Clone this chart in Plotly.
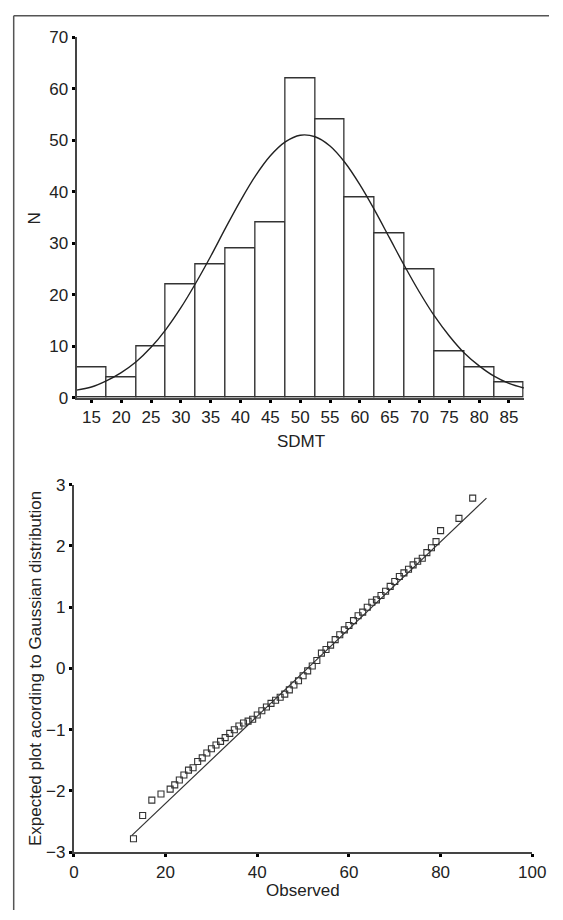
import plotly.graph_objects as go

# ---------------- data ----------------
sdmt_bins = [15, 20, 25, 30, 35, 40, 45, 50, 55, 60, 65, 70, 75, 80, 85]
counts = [6, 4, 10, 22, 26, 29, 34, 62, 54, 39, 32, 25, 9, 6, 3]

curve_x = [12.5, 15, 17.5, 20, 22.5, 25, 27.5, 30, 32.5, 35, 37.5, 40, 42.5, 45, 47.5,
           50, 52.5, 55, 57.5, 60, 62.5, 65, 67.5, 70, 72.5, 75, 77.5, 80, 82.5, 85, 87.5]
curve_y = [1.5, 2.1, 3.3, 4.9, 7.0, 9.8, 13.3, 17.5, 22.3, 27.5, 33.0, 38.3, 43.1, 47.0, 49.7,
           51.0, 50.7, 48.9, 45.7, 41.4, 36.4, 31.0, 25.6, 20.5, 15.9, 12.0, 8.7, 6.2, 4.2, 2.8, 1.9]

observed = [13, 15, 17, 19, 21, 22, 23, 24, 25, 26, 27, 28, 29, 30, 31, 32, 33, 34, 35, 36,
            37, 38, 39, 40, 41, 42, 43, 44, 45, 46, 47, 48, 49, 50, 51, 52, 53, 54, 55, 56,
            57, 58, 59, 60, 61, 62, 63, 64, 65, 66, 67, 68, 69, 70, 71, 72, 73, 74, 75, 76,
            77, 78, 79, 80, 84, 87]
expected = [-2.78, -2.40, -2.15, -2.05, -1.97, -1.90, -1.82, -1.74, -1.66, -1.62, -1.52, -1.46,
            -1.38, -1.31, -1.25, -1.19, -1.13, -1.06, -1.00, -0.94, -0.89, -0.86, -0.83, -0.76,
            -0.69, -0.63, -0.57, -0.52, -0.47, -0.42, -0.35, -0.27, -0.20, -0.12, -0.04, 0.04,
            0.13, 0.25, 0.31, 0.38, 0.47, 0.55, 0.63, 0.70, 0.78, 0.86, 0.92, 1.00, 1.08, 1.12,
            1.19, 1.26, 1.34, 1.42, 1.50, 1.56, 1.62, 1.69, 1.75, 1.80, 1.89, 1.97, 2.07, 2.25,
            2.45, 2.78]
ref_x = [12.6, 90.0]
ref_y = [-2.73, 2.78]

hist_yticks = [0, 10, 20, 30, 40, 50, 60, 70]
qq_xticks = [0, 20, 40, 60, 80, 100]
qq_yticks = [-3, -2, -1, 0, 1, 2, 3]

# ---------------- figure ----------------
W, H = 563, 920
FONT = "Liberation Sans, Arial, sans-serif"
TXT = "#222222"
AX = "#444444"
FS = 17


def px_x(p):
    return p / W


def px_y(p):
    return (H - p) / H


fig = go.Figure()

fig.add_trace(go.Bar(
    x=sdmt_bins, y=counts, width=5,
    marker=dict(color="white", line=dict(color="#333333", width=1.3)),
    xaxis="x", yaxis="y", showlegend=False,
))
fig.add_trace(go.Scatter(
    x=curve_x, y=curve_y, mode="lines", line=dict(color="#222222", width=1.4, shape="spline"),
    xaxis="x", yaxis="y", showlegend=False,
))

fig.add_trace(go.Scatter(
    x=ref_x, y=ref_y, mode="lines", line=dict(color="#333333", width=1.2),
    xaxis="x2", yaxis="y2", showlegend=False,
))
fig.add_trace(go.Scatter(
    x=observed, y=expected, mode="markers",
    marker=dict(symbol="square-open", size=6, color="#333333", line=dict(width=1.1)),
    xaxis="x2", yaxis="y2", showlegend=False,
))

axis_common = dict(
    showline=True, linecolor=AX, linewidth=2,
    ticks="outside", ticklen=3, tickwidth=3, tickcolor="#000000",
    showgrid=False, zeroline=False,
    tickfont=dict(family=FONT, size=FS, color=TXT),
)

fig.update_layout(
    autosize=True,
    margin=dict(l=0, r=0, t=0, b=0, pad=0),
    paper_bgcolor="white", plot_bgcolor="white",
    bargap=0,
    font=dict(family=FONT, size=FS, color=TXT),
    xaxis=dict(domain=[px_x(74), px_x(537)], range=[12.5, 87.5], tickvals=sdmt_bins,
               anchor="y", **axis_common),
    yaxis=dict(domain=[px_y(397), px_y(29)], range=[0, 70], tickvals=hist_yticks,
               anchor="x", **axis_common),
    xaxis2=dict(domain=[px_x(71.3), px_x(545.7)], range=[0, 100], tickvals=qq_xticks,
                anchor="y2", **axis_common),
    yaxis2=dict(domain=[px_y(861), px_y(485.7)], range=[-3, 3], tickvals=qq_yticks,
                anchor="x2", **axis_common),
    shapes=[
        dict(type="line", xref="paper", yref="paper", x0=px_x(9), x1=1.0, y0=px_y(7), y1=px_y(7),
             line=dict(color="#555555", width=1.5)),
        dict(type="line", xref="paper", yref="paper", x0=px_x(9), x1=px_x(9), y0=px_y(7), y1=0.0,
             line=dict(color="#555555", width=1.5)),
    ],
    annotations=[
        dict(text="N", xref="paper", yref="paper", x=px_x(31), y=px_y(214), textangle=-90,
             showarrow=False, xanchor="center", yanchor="middle", font=dict(size=FS)),
        dict(text="SDMT", xref="paper", yref="paper", x=px_x(306), y=px_y(442),
             showarrow=False, xanchor="center", yanchor="middle", font=dict(size=FS)),
        dict(text="Expected plot acording to Gaussian distribution", xref="paper", yref="paper",
             x=px_x(31), y=px_y(673), textangle=-90,
             showarrow=False, xanchor="center", yanchor="middle", font=dict(size=FS)),
        dict(text="Observed", xref="paper", yref="paper", x=px_x(308), y=px_y(900),
             showarrow=False, xanchor="center", yanchor="middle", font=dict(size=FS)),
    ],
)

fig.write_html(
    "out.html",
    config={"displayModeBar": False, "responsive": True},
    default_width="100vw",
    default_height="100vh",
    post_script=(
        "document.documentElement.style.margin='0';"
        "document.body.style.margin='0';"
        "document.body.style.overflow='hidden';"
        "Plotly.Plots.resize(document.getElementById('{plot_id}'));"
    ),
)
